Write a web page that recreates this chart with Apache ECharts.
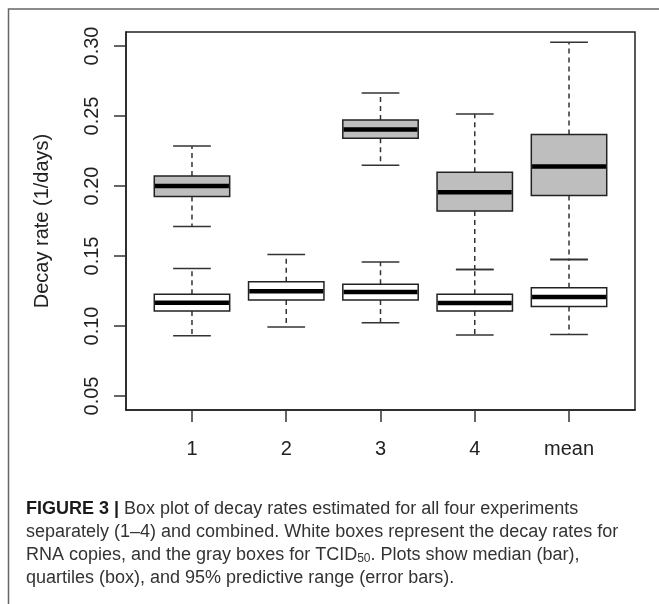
<!DOCTYPE html>
<html>
<head>
<meta charset="utf-8">
<script src="https://cdn.jsdelivr.net/npm/echarts@6/dist/echarts.min.js"></script>
<style>html,body{margin:0;padding:0;background:#fff}#c{width:659px;height:604px}</style>
</head>
<body>
<div id="c"></div>
<script>
// ---- data ----
const categories = ['1', '2', '3', '4', 'mean'];
const categoryPositions = [1, 2, 3, 4, 5];
const yTickValues = [0.05, 0.10, 0.15, 0.20, 0.25, 0.30];
// [lower whisker (2.5%), Q1, median, Q3, upper whisker (97.5%)]
const rnaBoxes = [
  [0.0930, 0.1107, 0.1166, 0.1226, 0.1411],
  [0.0992, 0.1185, 0.1249, 0.1316, 0.1511],
  [0.1023, 0.1185, 0.1242, 0.1299, 0.1458],
  [0.0935, 0.1107, 0.1164, 0.1226, 0.1404],
  [0.0940, 0.1140, 0.1207, 0.1273, 0.1476]
];
const tcidBoxes = [
  [0.1711, 0.1925, 0.2000, 0.2072, 0.2286],
  null,
  [0.2149, 0.2341, 0.2403, 0.2472, 0.2665],
  [0.1404, 0.1822, 0.1956, 0.2099, 0.2515],
  [0.1474, 0.1932, 0.2139, 0.2368, 0.3026]
];
const captionLines = [
  '{b|FIGURE 3 |} Box plot of decay rates estimated for all four experiments',
  'separately (1\u20134) and combined. White boxes represent the decay rates for',
  'RNA copies, and the gray boxes for TCID{sub|50}. Plots show median (bar),',
  'quartiles (box), and 95% predictive range (error bars).'
];

// ---- build ----
const FONT = 'Liberation Sans, Arial, Helvetica, sans-serif';
function toSeriesData(boxes) {
  const out = [];
  boxes.forEach((b, i) => { if (b) out.push([categoryPositions[i]].concat(b)); });
  return out;
}
function makeRender(fill) {
  return function (params, api) {
    const x = api.value(0);
    const yv = i => api.coord([x, api.value(i)])[1];
    const cx = api.coord([x, api.value(3)])[0];
    const yLo = yv(1), yQ1 = yv(2), yMed = yv(3), yQ3 = yv(4), yHi = yv(5);
    const bw = api.size([0.8, 0])[0];
    const sw = bw / 2;
    const seg = (x1, y1, x2, y2, extra) => ({
      type: 'line', shape: { x1, y1, x2, y2 },
      style: Object.assign({ stroke: '#333', lineWidth: 1.5 }, extra || {})
    });
    return {
      type: 'group',
      children: [
        seg(cx, yQ3, cx, yHi, { lineDash: [5, 4] }),
        seg(cx, yQ1, cx, yLo, { lineDash: [5, 4] }),
        seg(cx - sw / 2, yHi, cx + sw / 2, yHi),
        seg(cx - sw / 2, yLo, cx + sw / 2, yLo),
        { type: 'rect', shape: { x: cx - bw / 2, y: yQ3, width: bw, height: yQ1 - yQ3 },
          style: { fill: fill, stroke: '#222', lineWidth: 1.5 } },
        seg(cx - bw / 2 + 0.75, yMed, cx + bw / 2 - 0.75, yMed, { stroke: '#000', lineWidth: 4.5 })
      ]
    };
  };
}

const captionY = [509, 532, 555, 578];
const graphics = [
  { type: 'polyline', shape: { points: [[659, 9], [8.5, 9], [8.5, 604]] },
    style: { stroke: '#666', lineWidth: 1.5, fill: null }, z: 10 }
];
captionLines.forEach((t, i) => {
  graphics.push({
    type: 'text', x: 26, y: captionY[i], z: 10,
    style: {
      text: t, fontFamily: FONT, fontSize: 18, lineHeight: 18, fill: '#333',
      verticalAlign: 'middle', align: 'left',
      rich: {
        b: { fontWeight: 'bold', fontSize: 18, lineHeight: 18, fill: '#1a1a1a', fontFamily: FONT },
        sub: { fontSize: 12, lineHeight: 18, padding: [8, 0, 0, 0], fill: '#333', fontFamily: FONT }
      }
    }
  });
});

const chart = echarts.init(document.getElementById('c'), null, { renderer: 'canvas' });
chart.setOption({
  animation: false,
  backgroundColor: '#fff',
  grid: { left: 126, top: 32, width: 509, height: 378, show: true, borderColor: '#222', borderWidth: 1.5, backgroundColor: 'transparent' },
  xAxis: {
    type: 'value', min: 0.3, max: 5.7,
    axisLine: { show: true, onZero: false, lineStyle: { color: '#222', width: 1.5 } },
    axisTick: { show: true, length: 12, customValues: categoryPositions, lineStyle: { color: '#333', width: 1.5 } },
    axisLabel: { customValues: categoryPositions, formatter: v => categories[Math.round(v) - 1],
      margin: 29, fontSize: 20, color: '#222', fontFamily: FONT },
    splitLine: { show: false }
  },
  yAxis: {
    type: 'value', min: 0.04, max: 0.31,
    axisLine: { show: true, onZero: false, lineStyle: { color: '#222', width: 1.5 } },
    axisTick: { show: true, length: 12, customValues: yTickValues, lineStyle: { color: '#333', width: 1.5 } },
    axisLabel: { customValues: yTickValues, formatter: v => v.toFixed(2), rotate: 90,
      margin: 24, fontSize: 20, color: '#222', fontFamily: FONT },
    splitLine: { show: false },
    name: 'Decay rate (1/days)', nameLocation: 'middle', nameGap: 74,
    nameTextStyle: { fontSize: 20, color: '#222', fontFamily: FONT }
  },
  series: [
    { type: 'custom', name: 'RNA copies', renderItem: makeRender('#ffffff'),
      encode: { x: 0, y: [1, 2, 3, 4, 5] }, data: toSeriesData(rnaBoxes), clip: false },
    { type: 'custom', name: 'TCID50', renderItem: makeRender('#bebebe'),
      encode: { x: 0, y: [1, 2, 3, 4, 5] }, data: toSeriesData(tcidBoxes), clip: false }
  ],
  graphic: graphics
});
</script>
</body>
</html>
